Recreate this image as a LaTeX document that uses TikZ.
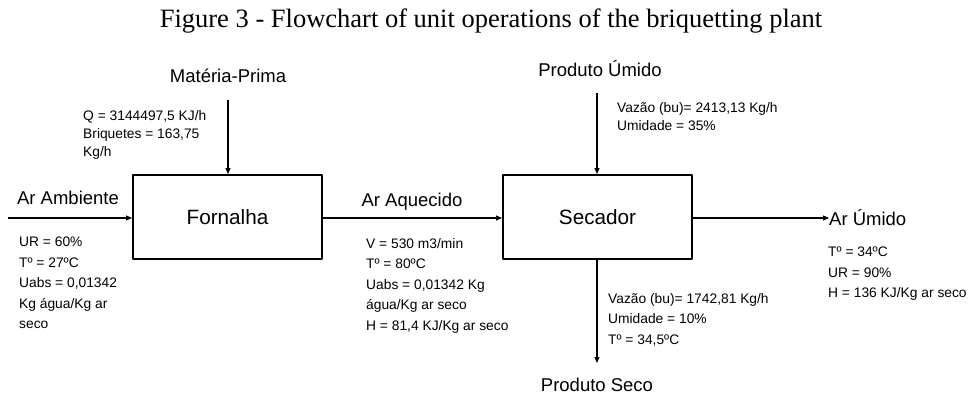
\documentclass[tikz,border=0pt]{standalone}
\usepackage{fontspec}
\setmainfont{Liberation Sans}
\newfontfamily\titlefont{Liberation Serif}
\usetikzlibrary{arrows.meta}

\begin{document}
\begin{tikzpicture}[x=1pt, y=-1pt, line join=round, >={Triangle[length=6pt,width=5pt]},
	unitbox/.style={draw, line width=2pt, minimum width=189pt, minimum height=84pt, inner sep=0pt, font=\fontsize{20.7}{24}\selectfont},
	flowlbl/.style={anchor=base, inner sep=0pt, font=\fontsize{18.5}{22}\selectfont},
	datatop/.style={anchor=north west, inner sep=0pt, align=left, font=\fontsize{13.8}{18}\selectfont},
	databot/.style={anchor=north west, inner sep=0pt, align=left, font=\fontsize{13.8}{20.5}\selectfont},
	flow/.style={->, line width=1.1pt}]
	\useasboundingbox (0,0) rectangle (969,396);
	\node[anchor=base, inner sep=0pt, font=\titlefont\fontsize{26.5}{30}\selectfont] (title) at (491,28) {Figure 3 - Flowchart of unit operations of the briquetting plant};
	% unit operations
	\node[unitbox] (fornalha) at (227.5,217) {Fornalha};
	\node[unitbox] (secador) at (597.5,217) {Secador};
	% stream labels
	\node[flowlbl] (ambiente) at (68,204) {Ar Ambiente};
	\node[flowlbl] (materia) at (228,82) {Matéria-Prima};
	\node[flowlbl] (aquecido) at (412,206) {Ar Aquecido};
	\node[flowlbl] (umido) at (600,77) {Produto Úmido};
	\node[flowlbl] (seco) at (597,391) {Produto Seco};
	\node[flowlbl, anchor=base west] (arumido) at (829,225) {Ar Úmido};
	% free ends
	\coordinate (ambStart) at (8,218);
	\coordinate (materiaStart) at (228,100);
	\coordinate (umidoStart) at (597,93);
	\coordinate (secoEnd) at (597,363);
	% streams
	\draw[flow] (ambStart) -- (fornalha.west |- ambStart);
	\draw[flow] (materiaStart) -- (materiaStart |- fornalha.north);
	\draw[flow] (fornalha.east |- ambStart) -- (secador.west |- ambStart);
	\draw[flow] (umidoStart) -- (umidoStart |- secador.north);
	\draw[flow] (secador.east |- ambStart) -- (arumido.west |- ambStart);
	\draw[flow] (secoEnd |- secador.south) -- (secoEnd);
	% stream data
	\node[datatop] (qdata) at (83,110) {Q = 3144497,5 KJ/h\\Briquetes = 163,75\\Kg/h};
	\node[datatop] (umidodata) at (617,102) {Vazão (bu)= 2413,13 Kg/h\\Umidade = 35\%};
	\node[databot] (ambdata) at (19,237) {UR = 60\%\\Tº = 27ºC\\Uabs = 0,01342\\Kg água/Kg ar\\seco};
	\node[databot] (aqdata) at (366,238) {V = 530 m3/min\\Tº = 80ºC\\Uabs = 0,01342 Kg\\água/Kg ar seco\\H = 81,4 KJ/Kg ar seco};
	\node[databot] (secodata) at (608,293) {Vazão (bu)= 1742,81 Kg/h\\Umidade = 10\%\\Tº = 34,5ºC};
	\node[databot] (arumdata) at (828,247) {Tº = 34ºC\\UR = 90\%\\H = 136 KJ/Kg ar seco};
\end{tikzpicture}
\end{document}
